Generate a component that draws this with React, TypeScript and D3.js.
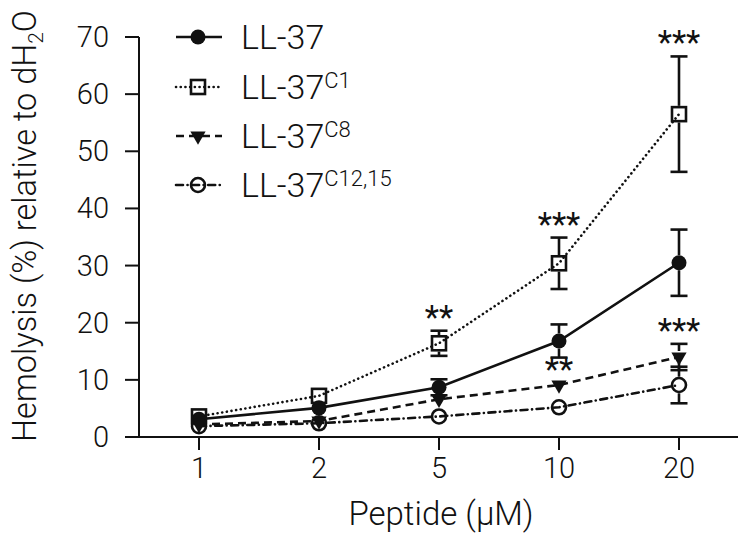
import * as d3 from "d3";

const doses = ["1", "2", "5", "10", "20"];

const ll37 = [3.1, 5.1, 8.7, 16.8, 30.5];
const ll37Err = [0.5, 0.8, 1.4, 2.9, 5.8];
const c1 = [3.6, 7.2, 16.4, 30.4, 56.5];
const c1Err = [0.4, 0.6, 2.2, 4.5, 10.1];
const c8 = [2.2, 2.8, 6.6, 9.1, 14.0];
const c8Err = [0.3, 0.5, 1.0, 0.3, 2.3];
const c12 = [1.9, 2.4, 3.6, 5.2, 9.1];
const c12Err = [0.3, 0.4, 0.5, 0.5, 3.2];

const c1Stars = ["", "", "**", "***", "***"];
const c8Stars = ["", "", "", "**", "***"];

const yTicks = [0, 10, 20, 30, 40, 50, 60, 70];

type Marker = "circle" | "square" | "triangle" | "ocircle";

const series: {
  name: string;
  sup: string;
  values: number[];
  errs: number[];
  stars: string[] | null;
  marker: Marker;
  dash: string;
  cap: "butt" | "round";
}[] = [
  { name: "LL-37", sup: "", values: ll37, errs: ll37Err, stars: null, marker: "circle", dash: "none", cap: "butt" },
  { name: "LL-37", sup: "C1", values: c1, errs: c1Err, stars: c1Stars, marker: "square", dash: "0.1,4.6", cap: "round" },
  { name: "LL-37", sup: "C8", values: c8, errs: c8Err, stars: c8Stars, marker: "triangle", dash: "8,5", cap: "butt" },
  { name: "LL-37", sup: "C12,15", values: c12, errs: c12Err, stars: null, marker: "ocircle", dash: "7,4.5,0.1,4.5", cap: "round" },
];

const W = 749;
const H = 542;
const FONT = "Roboto, 'Liberation Sans', Arial, sans-serif";
const INK = "#111";

const x = d3.scalePoint<string>().domain(doses).range([199, 679]);
const y = d3.scaleLinear().domain([0, 70]).range([437, 37]);

const triPath = d3.symbol().type(d3.symbolTriangle).size(100)() as string;

function MarkerShape({ kind, cx, cy }: { kind: Marker; cx: number; cy: number }) {
  if (kind === "circle") return <circle cx={cx} cy={cy} r={7.5} fill={INK} />;
  if (kind === "ocircle")
    return <circle cx={cx} cy={cy} r={7} fill="none" stroke={INK} strokeWidth={2.6} />;
  if (kind === "square")
    return <rect x={cx - 7} y={cy - 7} width={14} height={14} fill="none" stroke={INK} strokeWidth={2.6} />;
  return <path d={triPath} transform={`translate(${cx},${cy}) rotate(180)`} fill={INK} />;
}

const halfSize: Record<Marker, number> = { circle: 7.5, ocircle: 8.3, square: 8.3, triangle: 6 };

export default function App() {
  const line = d3
    .line<number>()
    .x((_, i) => x(doses[i]) as number)
    .y((d) => y(d));

  const legendRows = [37, 87, 136, 185];

  return (
    <svg
      width={W}
      height={H}
      style={{ position: "absolute", left: 0, top: 0, background: "#fff" }}
      fontFamily={FONT}
      fontWeight={300}
    >
      {/* axes */}
      <line x1={139} x2={139} y1={y(70)} y2={y(0)} stroke={INK} strokeWidth={2} />
      <line x1={125} x2={738} y1={y(0)} y2={y(0)} stroke={INK} strokeWidth={2} />
      {yTicks.map((t) => (
        <g key={t}>
          <line x1={125} x2={139} y1={y(t)} y2={y(t)} stroke={INK} strokeWidth={2} />
          <text x={109} y={y(t) + 10} textAnchor="end" fontSize={29} fill={INK}>
            {t}
          </text>
        </g>
      ))}
      {doses.map((d) => (
        <g key={d}>
          <line x1={x(d)} x2={x(d)} y1={y(0)} y2={y(0) + 13} stroke={INK} strokeWidth={2} />
          <text x={x(d)} y={478} textAnchor="middle" fontSize={29} fill={INK}>
            {d}
          </text>
        </g>
      ))}
      <text x={441} y={525} textAnchor="middle" fontSize={33} fill={INK}>
        Peptide (µM)
      </text>
      <text transform="translate(36,226) rotate(-90)" textAnchor="middle" fontSize={32.5} fill={INK}>
        Hemolysis (%) relative to dH
        <tspan fontSize={21} dy={7}>
          2
        </tspan>
        <tspan dy={-7}>O</tspan>
      </text>

      {/* series lines */}
      {series.map((s, si) => (
        <path
          key={`l${si}`}
          d={line(s.values) as string}
          fill="none"
          stroke={INK}
          strokeWidth={2.6}
          strokeDasharray={s.dash}
          strokeLinecap={s.cap}
        />
      ))}

      {/* error bars, markers, stars */}
      {series.map((s, si) => (
        <g key={`m${si}`}>
          {s.values.map((v, i) => {
            const cx = x(doses[i]) as number;
            const cy = y(v);
            const top = y(v + s.errs[i]);
            const bot = y(v - s.errs[i]);
            const hs = halfSize[s.marker];
            return (
              <g key={i}>
                {cy - top > hs && (
                  <>
                    <line x1={cx} x2={cx} y1={cy - hs} y2={top} stroke={INK} strokeWidth={2.6} />
                    <line x1={cx - 8.5} x2={cx + 8.5} y1={top} y2={top} stroke={INK} strokeWidth={2.6} />
                    <line x1={cx} x2={cx} y1={cy + hs} y2={bot} stroke={INK} strokeWidth={2.6} />
                    <line x1={cx - 8.5} x2={cx + 8.5} y1={bot} y2={bot} stroke={INK} strokeWidth={2.6} />
                  </>
                )}
                <MarkerShape kind={s.marker} cx={cx} cy={cy} />
                {s.stars && s.stars[i] && (
                  <text x={cx} y={top - 2} textAnchor="middle" fontSize={33} fontWeight={400} fill={INK}>
                    {s.stars[i]}
                  </text>
                )}
              </g>
            );
          })}
        </g>
      ))}

      {/* legend */}
      {series.map((s, si) => {
        const ly = legendRows[si];
        return (
          <g key={`g${si}`}>
            <line
              x1={176}
              x2={222}
              y1={ly}
              y2={ly}
              stroke={INK}
              strokeWidth={2.6}
              strokeDasharray={s.dash}
              strokeLinecap={s.cap}
            />
            <MarkerShape kind={s.marker} cx={198} cy={ly} />
            <text x={241} y={ly + 12} fontSize={34} fill={INK}>
              {s.name}
              {s.sup && (
                <tspan fontSize={22} dy={-11}>
                  {s.sup}
                </tspan>
              )}
            </text>
          </g>
        );
      })}
    </svg>
  );
}
